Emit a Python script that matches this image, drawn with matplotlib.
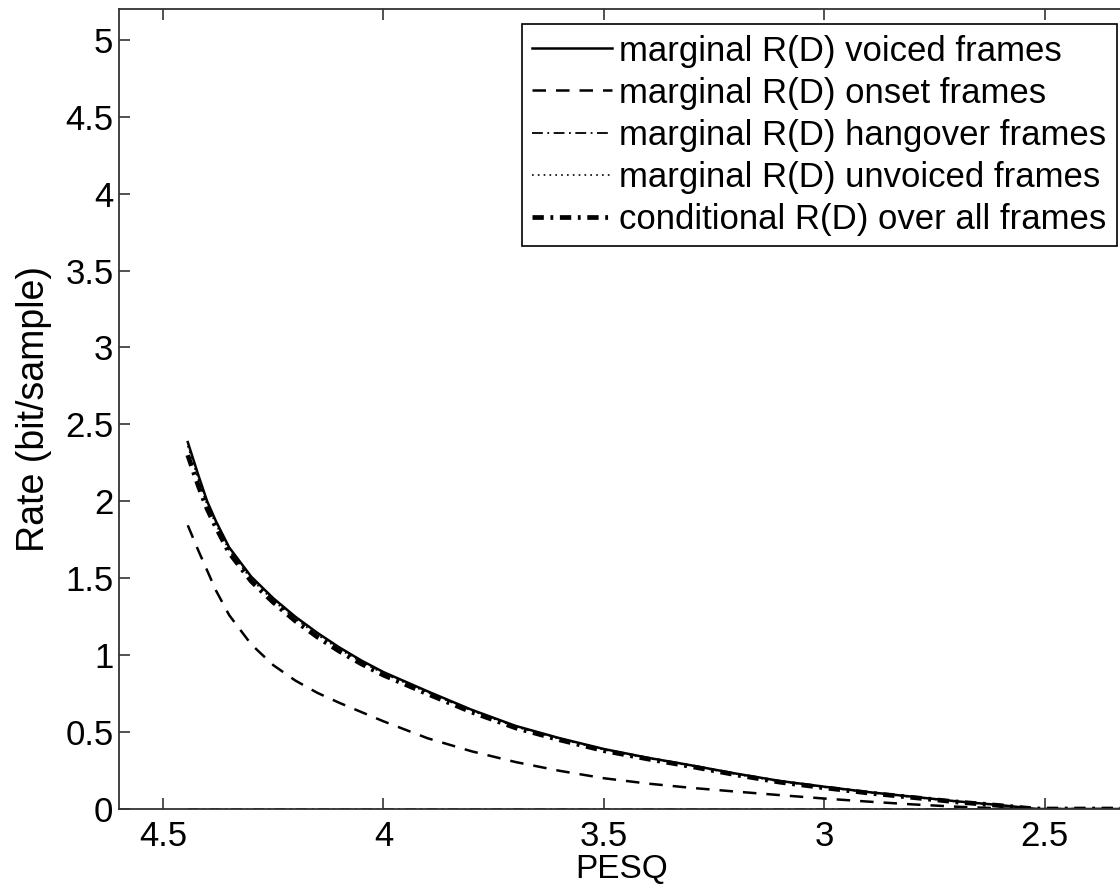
import numpy as np
import matplotlib
matplotlib.use("Agg")
import matplotlib.pyplot as plt
from matplotlib.ticker import FormatStrFormatter

plt.rcParams['font.family'] = ['Liberation Sans', 'DejaVu Sans']

# values
pesq = [4.444, 4.42, 4.40, 4.38, 4.35, 4.30, 4.25, 4.20, 4.15, 4.10, 4.05, 4.00,
        3.90, 3.80, 3.70, 3.60, 3.50, 3.40, 3.30, 3.20, 3.10, 3.00, 2.90, 2.80,
        2.70, 2.60, 2.55, 2.52, 2.45, 2.40, 2.30]
voiced = [2.385, 2.17, 2.00, 1.87, 1.70, 1.51, 1.37, 1.25, 1.145, 1.05, 0.965, 0.89,
          0.765, 0.645, 0.54, 0.46, 0.39, 0.333, 0.283, 0.23, 0.182, 0.145, 0.11, 0.08,
          0.05, 0.025, 0.01, 0.0, 0.0, 0.0, 0.0]
onset = [1.844, 1.68, 1.55, 1.42, 1.26, 1.07, 0.935, 0.835, 0.755, 0.69, 0.63, 0.57,
         0.46, 0.375, 0.305, 0.248, 0.20, 0.165, 0.137, 0.113, 0.09, 0.068, 0.048, 0.03,
         0.015, 0.004, 0.0, 0.0, 0.0, 0.0, 0.0]
hangover = [0.0] * len(pesq)
unvoiced = [2.36, 2.14, 1.975, 1.85, 1.68, 1.493, 1.355, 1.235, 1.132, 1.038, 0.955, 0.88,
            0.757, 0.638, 0.534, 0.455, 0.385, 0.329, 0.279, 0.226, 0.178, 0.141, 0.107, 0.077,
            0.048, 0.023, 0.009, 0.0, 0.0, 0.0, 0.0]
conditional = [2.30, 2.10, 1.95, 1.83, 1.665, 1.48, 1.343, 1.222, 1.118, 1.025, 0.943, 0.87,
               0.748, 0.63, 0.527, 0.449, 0.379, 0.325, 0.275, 0.222, 0.174, 0.138, 0.104, 0.075,
               0.046, 0.022, 0.008, 0.0, 0.0, 0.0, 0.0]

labels = ['marginal R(D) voiced frames',
          'marginal R(D) onset frames',
          'marginal R(D) hangover frames',
          'marginal R(D) unvoiced frames',
          'conditional R(D) over all frames']
xticks = [2.5, 3, 3.5, 4, 4.5]
yticks = np.arange(0, 5.01, 0.5)

fs = 25
fig = plt.figure(figsize=(11.2, 8.9), dpi=100)
ax = fig.add_axes([119/1120, 81/890, 1005/1120, 800/890])

ax.plot(pesq, voiced, color='black', lw=1.8, ls='-', label=labels[0])
ax.plot(pesq, onset, color='black', lw=1.8, dashes=(5.4, 4.0), label=labels[1])
ax.plot(pesq, hangover, color='black', lw=1.3, dashes=(6, 2.5, 1, 2.5), label=labels[2])
ax.plot(pesq, unvoiced, color='black', lw=1.2, dashes=(1, 2.5), label=labels[3])
ax.plot(pesq, conditional, color='black', lw=3.4, dashes=(2.4, 1.4, 0.6, 1.4), label=labels[4])

ax.set_xlim(4.6, 2.32)
ax.set_ylim(0, 5.2)
ax.set_xticks(xticks)
ax.set_yticks(yticks)
ax.xaxis.set_major_formatter(FormatStrFormatter('%g'))
ax.yaxis.set_major_formatter(FormatStrFormatter('%g'))
ax.tick_params(direction='in', length=8, width=1.2, labelsize=fs, color='#333333',
               top=True, right=False)
ax.tick_params(axis='x', pad=8)
ax.tick_params(axis='y', pad=4)
for sp in ax.spines.values():
    sp.set_color('#333333')
    sp.set_linewidth(1.3)

ax.set_xlabel('PESQ', fontsize=24)
ax.xaxis.set_label_coords(0.5, -0.056)
ax.set_ylabel('Rate (bit/sample)', fontsize=27)
ax.yaxis.set_label_coords(-0.067, 0.5)

leg = ax.legend(loc='upper right', bbox_to_anchor=(0.993, 0.981), borderaxespad=0,
                fontsize=fs, frameon=True, fancybox=False, framealpha=1,
                edgecolor='black', handlelength=2.3, handletextpad=0.2,
                labelspacing=0.26, borderpad=0.3)
leg.get_frame().set_linewidth(1.2)

fig.savefig('out.png', dpi=100)
